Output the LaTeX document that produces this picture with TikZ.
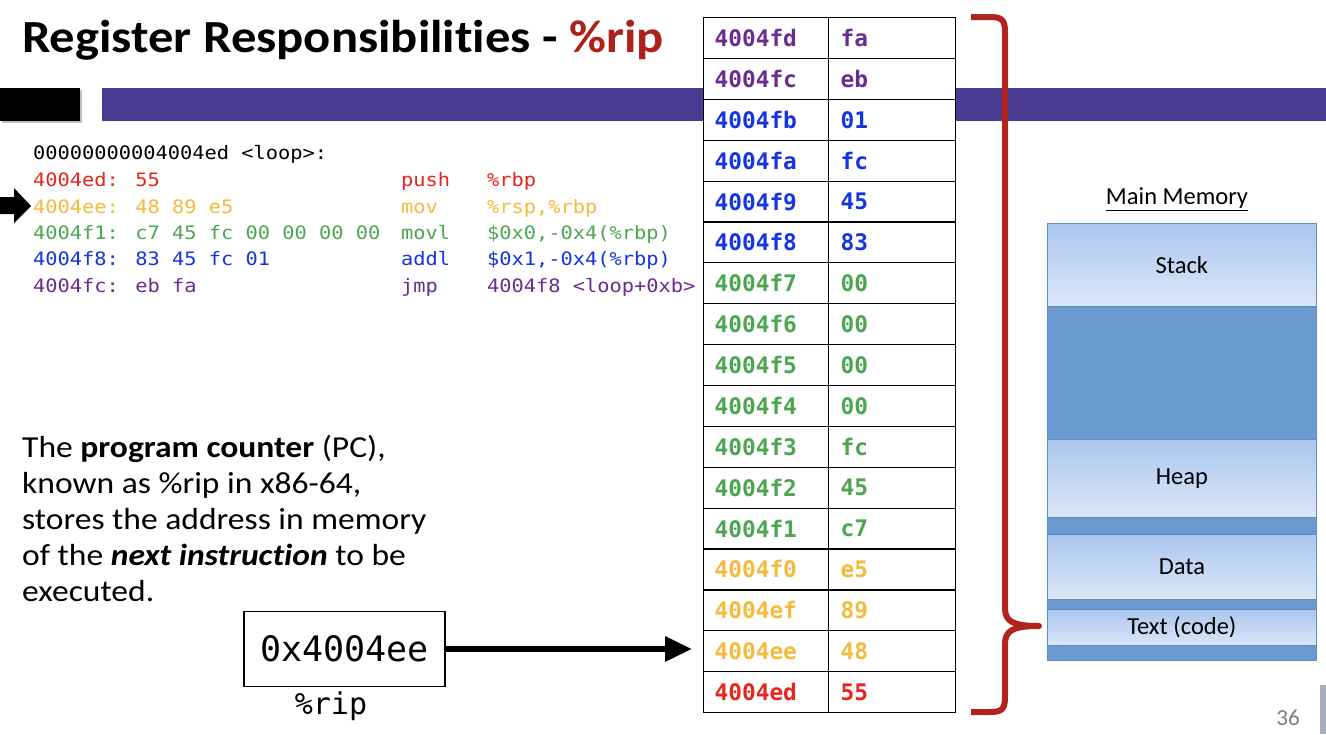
\documentclass[tikz,border=0pt]{standalone}
\usepackage{fontspec}
\setmainfont{Carlito}[RawFeature={-liga}]
\setmonofont{DejaVu Sans Mono}
\newfontfamily\slidefont[FakeStretch=1.1, RawFeature={-liga}]{Carlito}
\newfontfamily\codefont[FakeStretch=1.1]{DejaVu Sans Mono}
\usetikzlibrary{arrows.meta}
\definecolor{cred}{HTML}{E6261D}
\definecolor{cyel}{HTML}{F4BA3C}
\definecolor{cgrn}{HTML}{4BA650}
\definecolor{cblu}{HTML}{1534E2}
\definecolor{cpur}{HTML}{6B2C90}
\definecolor{titlered}{HTML}{B0201A}
\definecolor{barpurple}{HTML}{4A3A92}
\definecolor{bracered}{HTML}{B0241B}
\definecolor{memtop}{HTML}{AAC6EE}
\definecolor{membot}{HTML}{DCE7F8}
\definecolor{memdark}{HTML}{6A9AD0}
\definecolor{memline}{HTML}{5F8BC2}
\definecolor{pagegray}{HTML}{7F7F7F}
\definecolor{sidegray}{HTML}{A6ADBC}
\begin{document}
\begin{tikzpicture}[x=1pt,y=-1pt,
  code/.style={anchor=base west, inner sep=0pt, font=\fontsize{18.5}{22}\selectfont\codefont},
  para/.style={anchor=base west, inner sep=0pt, font=\fontsize{30.5}{36}\selectfont\slidefont},
  acell/.style={draw=black, fill=white, line width=1.2pt, anchor=north west, minimum height=40.88pt,
     inner xsep=11pt, inner ysep=0pt, text width=103pt, align=left,
     font=\fontsize{22.8}{26}\selectfont\ttfamily\bfseries},
  vcell/.style={acell, inner xsep=12pt},
  memlight/.style={draw=memline, line width=0.8pt, top color=memtop, bottom color=membot,
     anchor=north west, minimum width=269pt, inner sep=0pt, font=\fontsize{24.5}{28}\selectfont},
  memdarkbox/.style={draw=memline, line width=0.8pt, fill=memdark,
     anchor=north west, minimum width=269pt, inner sep=0pt}]
\useasboundingbox (0,0) rectangle (1326,734);
\fill[white] (0,0) rectangle (1326,734);

% title
\node[anchor=base west, inner sep=0pt, font=\fontsize{46}{52}\selectfont\slidefont\bfseries] (title) at (22,52)
  {Register Responsibilities - \textcolor{titlered}{\%rip}};

% header bars
\fill[black!25] (2,90) rectangle (82,123);
\fill[black] (0,88) rectangle (80,121);
\fill[barpurple] (102,88) rectangle (1326,121);

% code listing
\node[code] (l0) at (33,159) {00000000004004ed <loop>:};
\node[code, text=cred] (l1a) at (33,186) {4004ed: 55};
\node[code, text=cred] (l1b) at (401,186) {push};
\node[code, text=cred] (l1c) at (487,186) {\%rbp};
\node[code, text=cyel] (l2a) at (33,213) {4004ee: 48 89 e5};
\node[code, text=cyel] (l2b) at (401,213) {mov};
\node[code, text=cyel] (l2c) at (487,213) {\%rsp,\%rbp};
\node[code, text=cgrn] (l3a) at (33,239) {4004f1: c7 45 fc 00 00 00 00};
\node[code, text=cgrn] (l3b) at (401,239) {movl};
\node[code, text=cgrn] (l3c) at (487,239) {\$0x0,-0x4(\%rbp)};
\node[code, text=cblu] (l4a) at (33,265) {4004f8: 83 45 fc 01};
\node[code, text=cblu] (l4b) at (401,265) {addl};
\node[code, text=cblu] (l4c) at (487,265) {\$0x1,-0x4(\%rbp)};
\node[code, text=cpur] (l5a) at (33,292) {4004fc: eb fa};
\node[code, text=cpur] (l5b) at (401,292) {jmp};
\node[code, text=cpur] (l5c) at (487,292) {4004f8 <loop+0xb>};

% pointer arrow at current line
\fill[black] (0,197) -- (14,197) -- (14,188) -- (31,206) -- (14,223) -- (14,214) -- (0,214) -- cycle;

% paragraph
\node[para] (p1) at (22,457) {The \textbf{program counter} (PC),};
\node[para] (p2) at (22,493) {known as \%rip in x86-64,};
\node[para] (p3) at (22,529) {stores the address in memory};
\node[para] (p4) at (22,565) {of the \textbf{\textit{next instruction}} to be};
\node[para] (p5) at (22,601) {executed.};

% rip register
\node[draw=black, line width=1.2pt, minimum width=201pt, minimum height=75pt, inner sep=0pt,
  font=\fontsize{35}{40}\selectfont\ttfamily] (rip) at (344.5,649) {0x4004ee};
\node[inner sep=0pt, font=\fontsize{30}{34}\selectfont\ttfamily] (riplbl) at (331,706) {\%rip};

% memory table
\foreach \ad/\va/\co [count=\i from 0] in {
  4004fd/fa/cpur, 4004fc/eb/cpur, 4004fb/01/cblu, 4004fa/fc/cblu, 4004f9/45/cblu,
  4004f8/83/cblu, 4004f7/00/cgrn, 4004f6/00/cgrn, 4004f5/00/cgrn, 4004f4/00/cgrn,
  4004f3/fc/cgrn, 4004f2/45/cgrn, 4004f1/c7/cgrn, 4004f0/e5/cyel, 4004ef/89/cyel,
  4004ee/48/cyel, 4004ed/55/cred} {
  \node[acell, text=\co] (a\i) at (703,{17+\i*40.88}) {\ad};
  \node[vcell, text=\co] (v\i) at (828,{17+\i*40.88}) {\va};
}

% arrow from rip to table row
\coordinate (ripend) at ([xshift=-11pt]a15.west);
\draw[line width=6pt, -{Triangle[length=27pt,width=24pt]}] (rip.east) -- (rip.east -| ripend);

% brace
\draw[bracered, line width=6pt, line join=round]
  (971,17) -- (990,17) .. controls (1002,17) and (1005,20) .. (1005,32)
  -- (1005,608) .. controls (1005,621) and (1012,626) .. (1039,626)
  .. controls (1012,626) and (1005,631) .. (1005,644)
  -- (1005,697) .. controls (1005,709) and (1002,712) .. (990,712) -- (971,712);

% main memory
\node[inner sep=0pt, font=\fontsize{24.5}{28}\selectfont] (mmlabel) at (1177,199) {\underline{Main Memory}};
\node[memlight, minimum height=83pt] (stack) at (1047,223) {Stack};
\node[memdarkbox, minimum height=133pt] (free) at (1047,306) {};
\node[memlight, minimum height=78pt] (heap) at (1047,439) {Heap};
\node[memdarkbox, minimum height=17pt] (gap1) at (1047,517) {};
\node[memlight, minimum height=65pt] (data) at (1047,534) {Data};
\node[memdarkbox, minimum height=10pt] (gap2) at (1047,599) {};
\node[memlight, minimum height=36pt] (text) at (1047,609) {Text (code)};
\node[memdarkbox, minimum height=15pt] (gap3) at (1047,645) {};

% page number and side strip
\node[inner sep=0pt, text=pagegray, font=\fontsize{23}{26}\selectfont] (pnum) at (1288,718) {36};
\fill[sidegray] (1320,685) rectangle (1326,734);
\end{tikzpicture}
\end{document}
